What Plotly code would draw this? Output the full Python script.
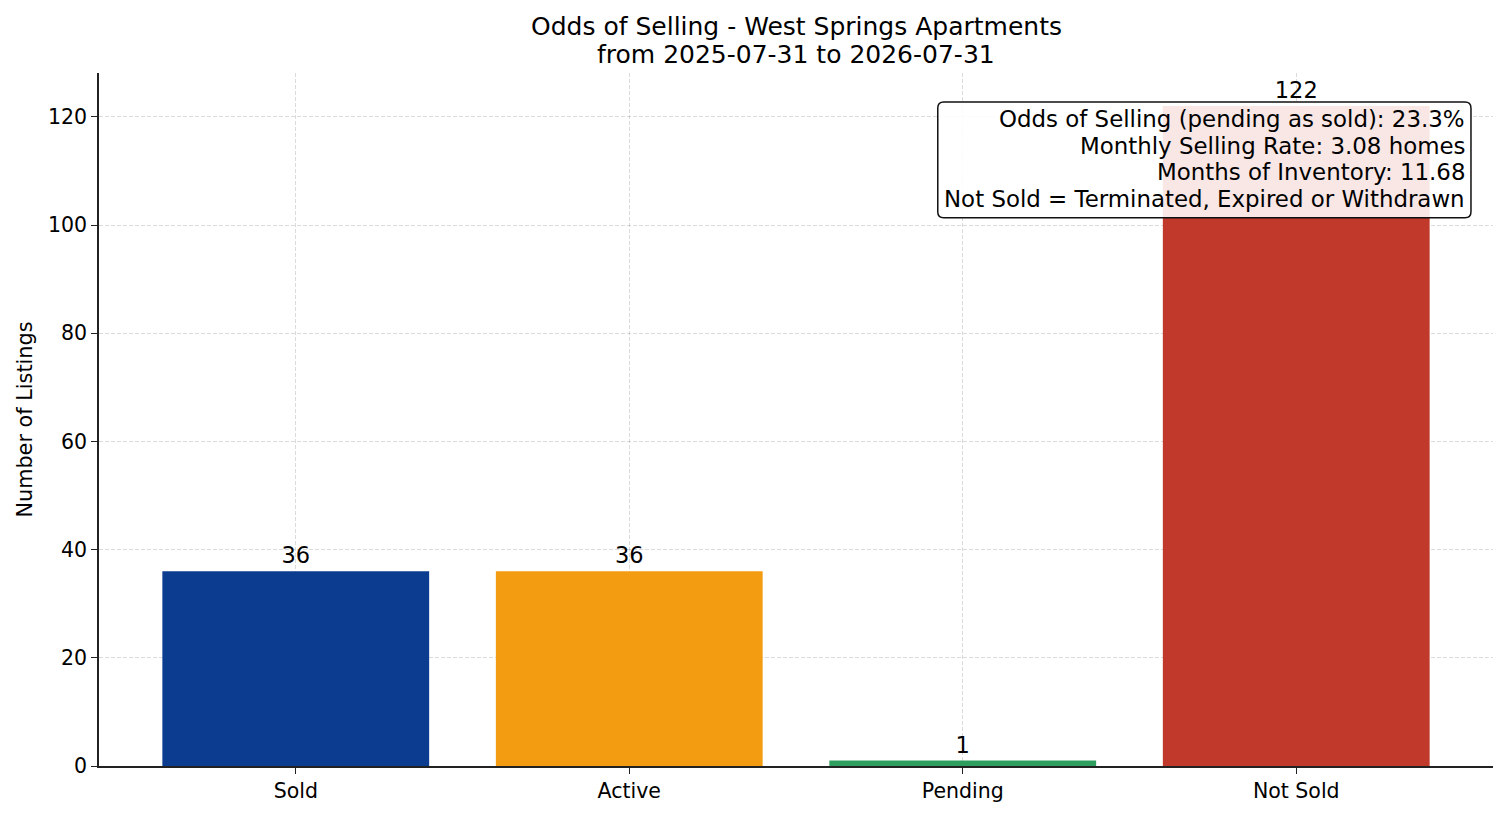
import plotly.graph_objects as go

# Data
categories = ['Sold', 'Active', 'Pending', 'Not Sold']
counts = [36, 36, 1, 122]
colors = ['#0b3c8f', '#f39c12', '#2e9e5e', '#c0392b']

title_lines = ['Odds of Selling - West Springs Apartments',
               'from 2025-07-31 to 2026-07-31']
stats_lines = [
    'Odds of Selling (pending as sold): 23.3%',
    'Monthly Selling Rate: 3.08 homes',
    'Months of Inventory: 11.68',
    'Not Sold = Terminated, Expired or Withdrawn',
]

x_pos = list(range(len(categories)))

fig = go.Figure()

fig.add_trace(
    go.Bar(
        x=x_pos,
        y=counts,
        width=0.8,
        marker=dict(color=colors, line=dict(width=0)),
        text=[str(c) for c in counts],
        textposition='outside',
        textfont=dict(size=22.5, color='black'),
        cliponaxis=False,
        showlegend=False,
    )
)

# light dashed grid drawn over the bars, like the original
grid = dict(showgrid=True, gridcolor='rgba(0,0,0,0.14)', griddash='4px,2px', gridwidth=1)

fig.update_layout(
    width=1491,
    height=800,
    paper_bgcolor='white',
    plot_bgcolor='white',
    font=dict(family='DejaVu Sans', size=20.5, color='black'),
    margin=dict(l=91, r=6, t=65, b=42),
    xaxis=dict(
        range=[-0.59, 3.59],
        tickmode='array',
        tickvals=x_pos,
        ticktext=categories,
        ticks='outside', ticklen=6, tickcolor='#222',
        showline=True, linecolor='#222', linewidth=1.5,
        zeroline=False,
        layer='above traces',
        tickfont=dict(size=20.5),
        **grid,
    ),
    yaxis=dict(
        title=dict(text='Number of Listings', font=dict(size=20.8), standoff=10),
        range=[0, 128.1],
        tickmode='linear', tick0=0, dtick=20,
        ticks='outside', ticklen=6, tickcolor='#222',
        showline=True, linecolor='#222', linewidth=1.5,
        zeroline=False,
        layer='above traces',
        tickfont=dict(size=20.5),
        **grid,
    ),
)

# title: one annotation per line for tighter line spacing
for i, line in enumerate(title_lines):
    fig.add_annotation(
        text=line,
        xref='paper', yref='paper',
        x=0.5, y=1, yshift=47 - i * 28,
        xanchor='center', yanchor='middle',
        showarrow=False,
        font=dict(size=25, color='black'),
    )

# rounded, semi-transparent stats box (paper coords)
bx0, bx1, by0, by1 = 0.6017, 0.9842, 0.7910, 0.9582
rx, ry = 0.0043, 0.0087
box_path = (
    f'M {bx0 + rx},{by0} L {bx1 - rx},{by0} Q {bx1},{by0} {bx1},{by0 + ry} '
    f'L {bx1},{by1 - ry} Q {bx1},{by1} {bx1 - rx},{by1} '
    f'L {bx0 + rx},{by1} Q {bx0},{by1} {bx0},{by1 - ry} '
    f'L {bx0},{by0 + ry} Q {bx0},{by0} {bx0 + rx},{by0} Z'
)
fig.add_shape(
    type='path', path=box_path, xref='paper', yref='paper',
    fillcolor='rgba(255,255,255,0.88)',
    line=dict(color='#111', width=1.5),
    layer='above',
)

for i, line in enumerate(stats_lines):
    fig.add_annotation(
        text=line,
        xref='paper', yref='paper',
        x=0.981, y=1, yshift=-46 - i * 26.7,
        xanchor='right', yanchor='middle',
        showarrow=False,
        font=dict(size=22.9, color='black'),
    )

fig.write_html('out.html')
